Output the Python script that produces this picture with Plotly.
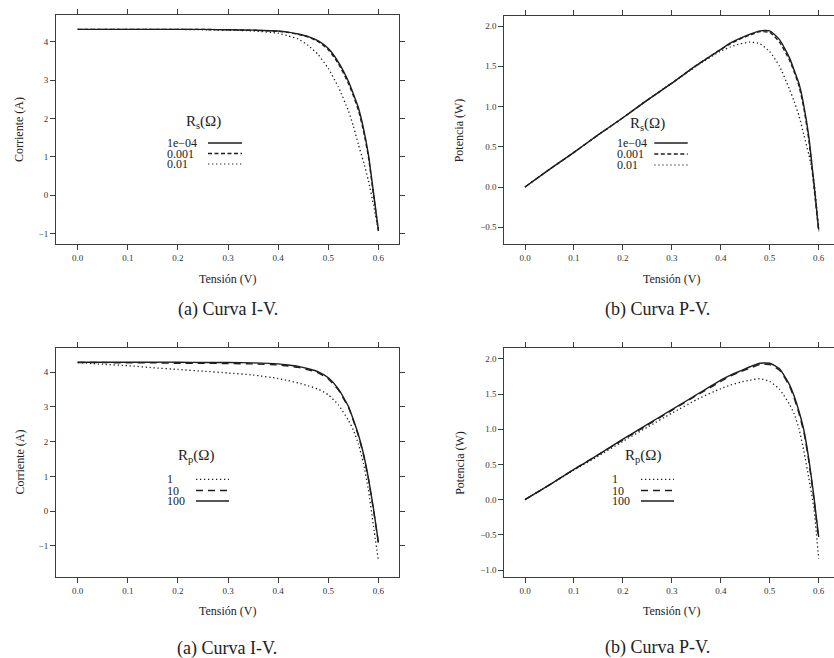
import plotly.graph_objects as go

# ---------------- data ----------------
voltage = [0.00, 0.05, 0.10, 0.15, 0.20, 0.25, 0.30, 0.35, 0.40, 0.42, 0.44,
           0.46, 0.48, 0.50, 0.52, 0.54, 0.55, 0.56, 0.57, 0.58, 0.59, 0.60]

# (a) top: I-V, series resistance
i_rs_1e4 = [4.32, 4.32, 4.32, 4.32, 4.32, 4.32, 4.31, 4.30, 4.28, 4.25, 4.20,
            4.13, 4.02, 3.82, 3.47, 2.97, 2.64, 2.28, 1.75, 1.06, 0.08, -0.92]
i_rs_1e3 = [4.32, 4.32, 4.32, 4.32, 4.32, 4.32, 4.31, 4.30, 4.27, 4.24, 4.19,
            4.12, 4.00, 3.79, 3.43, 2.92, 2.59, 2.22, 1.69, 1.00, 0.02, -0.93]
i_rs_1e2 = [4.32, 4.32, 4.32, 4.32, 4.32, 4.31, 4.30, 4.28, 4.22, 4.15, 4.07,
            3.90, 3.66, 3.30, 2.82, 2.20, 1.80, 1.32, 0.88, 0.38, -0.25, -0.92]

# (b) top: P-V, series resistance
p_rs_1e4 = [0.00, 0.22, 0.43, 0.65, 0.86, 1.08, 1.29, 1.51, 1.71, 1.79, 1.85,
            1.90, 1.94, 1.94, 1.83, 1.61, 1.45, 1.28, 1.00, 0.62, 0.06, -0.53]
p_rs_1e3 = [0.00, 0.22, 0.43, 0.65, 0.86, 1.08, 1.29, 1.51, 1.71, 1.78, 1.84,
            1.89, 1.93, 1.92, 1.80, 1.58, 1.43, 1.25, 0.97, 0.58, 0.02, -0.55]
p_rs_1e2 = [0.00, 0.22, 0.43, 0.65, 0.86, 1.08, 1.29, 1.50, 1.69, 1.74, 1.78,
            1.80, 1.78, 1.68, 1.50, 1.22, 1.06, 0.88, 0.64, 0.40, 0.10, -0.53]

# (a) bottom: I-V, parallel resistance
i_rp_1 = [4.28, 4.23, 4.19, 4.13, 4.08, 4.03, 3.98, 3.92, 3.82, 3.76, 3.69,
          3.61, 3.51, 3.35, 3.06, 2.62, 2.33, 1.93, 1.38, 0.61, -0.42, -1.43]
i_rp_10 = [4.28, 4.28, 4.27, 4.27, 4.26, 4.26, 4.25, 4.24, 4.21, 4.18, 4.14,
           4.07, 3.98, 3.81, 3.49, 2.99, 2.60, 2.17, 1.63, 0.92, 0.04, -0.93]
i_rp_100 = [4.29, 4.29, 4.29, 4.29, 4.29, 4.28, 4.28, 4.27, 4.24, 4.21, 4.17,
            4.10, 4.01, 3.84, 3.52, 3.02, 2.63, 2.20, 1.66, 0.95, 0.08, -0.90]

# (b) bottom: P-V, parallel resistance
p_rp_1 = [0.00, 0.21, 0.42, 0.62, 0.83, 1.03, 1.23, 1.42, 1.58, 1.63, 1.67,
          1.70, 1.72, 1.68, 1.57, 1.36, 1.22, 1.00, 0.68, 0.30, -0.11, -0.84]
p_rp_10 = [0.00, 0.21, 0.43, 0.64, 0.85, 1.06, 1.27, 1.48, 1.68, 1.76, 1.82,
           1.87, 1.92, 1.92, 1.84, 1.62, 1.44, 1.22, 0.95, 0.54, 0.02, -0.56]
p_rp_100 = [0.00, 0.21, 0.43, 0.64, 0.86, 1.07, 1.28, 1.49, 1.70, 1.77, 1.83,
            1.89, 1.94, 1.94, 1.86, 1.64, 1.47, 1.25, 0.98, 0.57, 0.06, -0.53]

rs_labels = ["1e\u221204", "0.001", "0.01"]
rp_labels = ["1", "10", "100"]

x_tickvals = [0.0, 0.1, 0.2, 0.3, 0.4, 0.5, 0.6]
x_ticktext = ["0.0", "0.1", "0.2", "0.3", "0.4", "0.5", "0.6"]
i_tickvals = [-1, 0, 1, 2, 3, 4]
i_ticktext = ["\u22121", "0", "1", "2", "3", "4"]
p_top_tickvals = [-0.5, 0.0, 0.5, 1.0, 1.5, 2.0]
p_top_ticktext = ["\u22120.5", "0.0", "0.5", "1.0", "1.5", "2.0"]
p_bot_tickvals = [-1.0, -0.5, 0.0, 0.5, 1.0, 1.5, 2.0]
p_bot_ticktext = ["\u22121.0", "\u22120.5", "0.0", "0.5", "1.0", "1.5", "2.0"]

x_title = "Tensión (V)"
i_title = "Corriente (A)"
p_title = "Potencia (W)"
captions = ["(a) Curva I-V.", "(b) Curva P-V.", "(a) Curva I-V.", "(b) Curva P-V."]

# ---------------- layout helpers ----------------
W, H = 834, 658
SERIF = "Liberation Serif"
INK = "#1e1e1e"
FRAME = "#3c3c3c"


def px(x):
    return x / W


def py(y):
    return 1 - y / H


DASH_SHORT = "4px,2.5px"
DASH_LONG = "7px,5px"
DOT = "1.3px,2.7px"

fig = go.Figure()


def add_series(xref, yref, ys, dash, width=1.4):
    fig.add_trace(go.Scatter(x=voltage, y=ys, mode="lines", xaxis=xref, yaxis=yref,
                             line=dict(color=INK, width=width, dash=dash,
                                       shape="spline", smoothing=0.5),
                             showlegend=False, hoverinfo="skip"))


# panel 1
add_series("x", "y", i_rs_1e2, DOT, 1.3)
add_series("x", "y", i_rs_1e3, DASH_SHORT)
add_series("x", "y", i_rs_1e4, "solid")
# panel 2
add_series("x2", "y2", p_rs_1e2, DOT, 1.3)
add_series("x2", "y2", p_rs_1e3, DASH_SHORT)
add_series("x2", "y2", p_rs_1e4, "solid")
# panel 3
add_series("x3", "y3", i_rp_1, DOT, 1.3)
add_series("x3", "y3", i_rp_10, DASH_LONG)
add_series("x3", "y3", i_rp_100, "solid")
# panel 4
add_series("x4", "y4", p_rp_1, DOT, 1.3)
add_series("x4", "y4", p_rp_10, DASH_LONG)
add_series("x4", "y4", p_rp_100, "solid")

tickfont = dict(family=SERIF, size=9, color="#333333")


def xaxis(domain, rng, anchor):
    return dict(domain=domain, range=rng, anchor=anchor, showline=True, linecolor=FRAME,
                linewidth=1, mirror="ticks", ticks="outside", ticklen=5, tickwidth=1,
                tickcolor=FRAME, showgrid=False, zeroline=False, tickvals=x_tickvals,
                ticktext=x_ticktext, tickfont=tickfont, fixedrange=True,
                automargin=False)


def yaxis(domain, rng, anchor, tv, tt):
    return dict(domain=domain, range=rng, anchor=anchor, showline=True, linecolor=FRAME,
                linewidth=1, mirror="ticks", ticks="outside", ticklen=5, tickwidth=1,
                tickcolor=FRAME, showgrid=False, zeroline=False, tickvals=tv,
                ticktext=tt, tickfont=tickfont, fixedrange=True, automargin=False)


left_dom = [px(56), px(399)]
right_dom = [px(504.3), 1.0]
top_dom = [py(244), py(15)]
bot_dom = [py(576.7), py(348.3)]

fig.update_layout(
    template="none",
    width=W, height=H, margin=dict(l=0, r=0, t=0, b=0, autoexpand=False),
    paper_bgcolor="white", plot_bgcolor="white",
    xaxis=xaxis(left_dom, [-0.0433, 0.641], "y"),
    yaxis=yaxis(top_dom, [-1.27, 4.695], "x", i_tickvals, i_ticktext),
    xaxis2=xaxis(right_dom, [-0.0423, 0.6313], "y2"),
    yaxis2=yaxis([py(243.7), py(15.7)], [-0.704, 2.128], "x2", p_top_tickvals, p_top_ticktext),
    xaxis3=xaxis(left_dom, [-0.0433, 0.641], "y3"),
    yaxis3=yaxis(bot_dom, [-1.89, 4.69], "x3", i_tickvals, i_ticktext),
    xaxis4=xaxis(right_dom, [-0.0423, 0.6313], "y4"),
    yaxis4=yaxis(bot_dom, [-1.095, 2.152], "x4", p_bot_tickvals, p_bot_ticktext),
)


def text(x, y, s, size, xanchor="center", angle=0, color="#222222"):
    fig.add_annotation(x=px(x), y=py(y), xref="paper", yref="paper", text=s,
                       showarrow=False, xanchor=xanchor, yanchor="middle",
                       textangle=angle, borderpad=0,
                       font=dict(family=SERIF, size=size, color=color))


# axis titles
for cx in (227.5, 671.5):
    text(cx, 279, x_title, 12)
    text(cx, 611, x_title, 12)
text(19, 130, i_title, 12, angle=-90)
text(19, 462.5, i_title, 12, angle=-90)
text(459.3, 130, p_title, 12, angle=-90)
text(459.3, 462.5, p_title, 12, angle=-90)

# captions
text(228, 309, captions[0], 18)
text(657, 309, captions[1], 18)
text(227, 648, captions[2], 18)
text(657, 647, captions[3], 18)


# legends
def legend(title_x, title_y, text_x, rows_y, line_x0, line_x1, title, labels, dashes):
    text(title_x, title_y, title, 15)
    for yy, lab, d in zip(rows_y, labels, dashes):
        text(text_x, yy, lab, 12, xanchor="left")
        fig.add_shape(type="line", xref="paper", yref="paper",
                      x0=px(line_x0), x1=px(line_x1), y0=py(yy), y1=py(yy),
                      line=dict(color=INK, width=1.4 if d != DOT else 1.2, dash=d))


rs_title = "R<sub>s</sub>(\u03a9)"
rp_title = "R<sub>p</sub>(\u03a9)"
legend(203, 122, 166, [143, 153.5, 164], 208, 242, rs_title, rs_labels,
       ["solid", DASH_SHORT, DOT])
legend(647, 124, 615.7, [143, 154, 165], 654.3, 687.7, rs_title, rs_labels,
       ["solid", DASH_SHORT, DOT])
legend(196, 456, 165.7, [479.3, 490.5, 501], 196, 229, rp_title, rp_labels,
       [DOT, DASH_LONG, "solid"])
legend(642.7, 456, 611, [479.3, 490.5, 501], 641, 674, rp_title, rp_labels,
       [DOT, DASH_LONG, "solid"])

fig.write_html("out.html")
